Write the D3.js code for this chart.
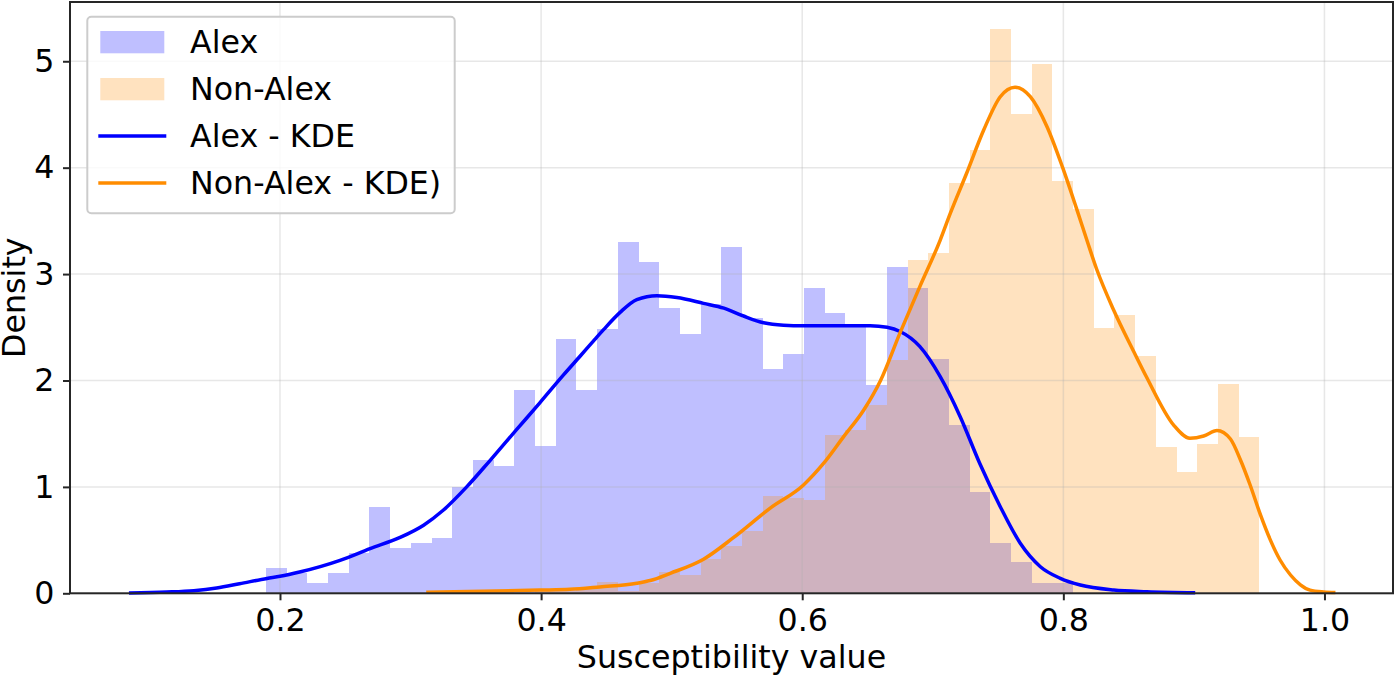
<!DOCTYPE html>
<html>
<head>
<meta charset="utf-8">
<script src="https://cdn.jsdelivr.net/npm/d3@7"></script>
<style>
  body { margin: 0; background: #fff; }
  text { font-family: "DejaVu Sans", sans-serif; fill: #000; }
</style>
</head>
<body>
<div id="chart"></div>
<script>

/**
 * Data
 */

// shared histogram bins
const binStart = 0.1893;
const binWidth = 0.01585;

const alexDensity = [
  0.235, 0.19, 0.10, 0.19, 0.38, 0.81, 0.43, 0.475, 0.52, 1.00,
  1.25, 1.20, 1.91, 1.38, 2.39, 1.91, 2.48, 3.30, 3.11, 2.68,
  2.44, 2.72, 3.25, 2.59, 2.11, 2.25, 2.87, 2.63, 2.52, 1.96,
  3.07, 2.87, 2.20, 1.58, 0.955, 0.475, 0.29, 0.094, 0.094, 0,
  0, 0, 0, 0, 0, 0, 0, 0,
];

const nonAlexDensity = [
  0, 0, 0, 0, 0, 0, 0, 0, 0, 0,
  0, 0.02, 0, 0.02, 0.02, 0.04, 0.11, 0.02, 0.10, 0.20,
  0.17, 0.32, 0.44, 0.585, 0.915, 0.895, 0.877, 1.49, 1.535, 1.77,
  2.19, 3.13, 3.20, 3.856, 4.166, 5.30, 4.50, 4.975, 3.875, 3.61,
  2.49, 2.62, 2.23, 1.375, 1.14, 1.40, 1.97, 1.47,
];

const alexKde = [
  [0.0843, 0.003], [0.113, 0.012], [0.134, 0.025], [0.1515, 0.05], [0.169, 0.09],
  [0.19, 0.14], [0.2, 0.16], [0.215, 0.2], [0.246, 0.31], [0.269, 0.42],
  [0.292, 0.525], [0.31, 0.64], [0.325, 0.78], [0.343, 1.0], [0.361, 1.25],
  [0.381, 1.535], [0.399, 1.79], [0.417, 2.05], [0.43, 2.23], [0.44, 2.37],
  [0.448, 2.48], [0.4605, 2.64], [0.4733, 2.76], [0.4887, 2.797], [0.504, 2.78],
  [0.5244, 2.725], [0.54, 2.68], [0.555, 2.606], [0.5704, 2.543], [0.5857, 2.52],
  [0.601, 2.515], [0.6266, 2.515], [0.652, 2.515], [0.665, 2.5], [0.675, 2.46],
  [0.69, 2.32], [0.7057, 2.036], [0.721, 1.66], [0.736, 1.22], [0.7517, 0.814],
  [0.767, 0.47], [0.7824, 0.25], [0.7977, 0.141], [0.813, 0.078], [0.8386, 0.031],
  [0.864, 0.015], [0.901, 0.005],
];

const nonAlexKde = [
  [0.312, 0.01], [0.399, 0.03], [0.422, 0.037], [0.445, 0.06], [0.4733, 0.094],
  [0.4835, 0.12], [0.4989, 0.188], [0.5244, 0.32], [0.547, 0.52], [0.5755, 0.80],
  [0.601, 1.018], [0.6163, 1.22], [0.6316, 1.47], [0.647, 1.72], [0.66, 2.0],
  [0.675, 2.45], [0.69, 2.88], [0.7057, 3.32], [0.7134, 3.57], [0.726, 3.95],
  [0.739, 4.354], [0.7517, 4.667], [0.763, 4.756], [0.7747, 4.667], [0.7875, 4.385],
  [0.7995, 4.0], [0.81, 3.62], [0.818, 3.32], [0.8254, 3.05], [0.8386, 2.66],
  [0.854, 2.27], [0.8638, 2.03], [0.8845, 1.58], [0.897, 1.457], [0.9075, 1.478],
  [0.9177, 1.53], [0.928, 1.45], [0.9356, 1.255], [0.943, 1.02], [0.951, 0.737],
  [0.9586, 0.5], [0.966, 0.313], [0.974, 0.172], [0.9816, 0.08], [0.989, 0.03],
  [0.9995, 0.013], [1.0084, 0.008],
];

const xTicks = [0.2, 0.4, 0.6, 0.8, 1.0];
const yTicks = [0, 1, 2, 3, 4, 5];

const legendLabels = ['Alex', 'Non-Alex', 'Alex - KDE', 'Non-Alex - KDE)'];


/**
 * Setup
 */

const width = 1395;
const height = 678;
const margin = { top: 2, right: 2, bottom: 84.7, left: 70 };
const fontSize = '31.7px';

const colors = {
  alex: '#0000ff',
  nonAlex: '#ff8c00',
  spine: '#262626',
  grid: '#b0b0b0',
};

const svg = d3.select('#chart')
              .append('svg')
              .attr('width', width)
              .attr('height', height);

const x = d3.scaleLinear()
            .domain([0.03916, 1.0525])
            .range([margin.left, width - margin.right]);

const y = d3.scaleLinear()
            .domain([0, 5.557])
            .range([height - margin.bottom, margin.top]);

const bins = alexDensity.map((_, i) => ({
  x0: binStart + i * binWidth,
  x1: binStart + (i + 1) * binWidth,
}));


/**
 * Histograms
 */

function drawBars(values, color) {
  svg.append('g')
     .selectAll('rect')
     .data(values.map((v, i) => ({ ...bins[i], v })).filter(d => d.v > 0))
     .enter()
     .append('rect')
     .attr('x', d => x(d.x0))
     .attr('width', d => x(d.x1) - x(d.x0))
     .attr('y', d => y(d.v))
     .attr('height', d => y(0) - y(d.v))
     .attr('fill', color)
     .attr('fill-opacity', 0.25)
     .attr('shape-rendering', 'crispEdges');
}

drawBars(alexDensity, colors.alex);
drawBars(nonAlexDensity, colors.nonAlex);


/**
 * Grid
 */

const grid = svg.append('g')
                .attr('stroke', colors.grid)
                .attr('stroke-opacity', 0.3)
                .attr('stroke-width', 1.5);

grid.selectAll('line.gx')
    .data(xTicks)
    .enter()
    .append('line')
    .attr('x1', d => x(d)).attr('x2', d => x(d))
    .attr('y1', y.range()[0]).attr('y2', y.range()[1]);

grid.selectAll('line.gy')
    .data(yTicks)
    .enter()
    .append('line')
    .attr('y1', d => y(d)).attr('y2', d => y(d))
    .attr('x1', x.range()[0]).attr('x2', x.range()[1]);


/**
 * KDE lines
 */

const line = d3.line()
               .x(d => x(d[0]))
               .y(d => y(d[1]))
               .curve(d3.curveMonotoneX);

[[alexKde, colors.alex], [nonAlexKde, colors.nonAlex]].forEach(([pts, color]) => {
  svg.append('path')
     .datum(pts)
     .attr('d', line)
     .attr('fill', 'none')
     .attr('stroke', color)
     .attr('stroke-width', 3.5)
     .attr('stroke-linejoin', 'round');
});


/**
 * Axes
 */

const xAxis = svg.append('g')
                 .attr('transform', `translate(0,${y(0)})`)
                 .call(d3.axisBottom(x)
                         .tickValues(xTicks)
                         .tickFormat(d3.format('.1f'))
                         .tickSize(7)
                         .tickPadding(8));

const yAxis = svg.append('g')
                 .attr('transform', `translate(${x.range()[0]},0)`)
                 .call(d3.axisLeft(y)
                         .tickValues(yTicks)
                         .tickFormat(d3.format('d'))
                         .tickSize(7)
                         .tickPadding(8.5));

[xAxis, yAxis].forEach(axis => {
  axis.select('.domain').remove();
  axis.selectAll('.tick line')
      .attr('stroke', colors.spine)
      .attr('stroke-width', 2);
  axis.selectAll('.tick text')
      .attr('fill', '#000')
      .style('font-family', '"DejaVu Sans", sans-serif')
      .style('font-size', fontSize);
});

// frame
svg.append('rect')
   .attr('x', x.range()[0])
   .attr('y', y.range()[1])
   .attr('width', x.range()[1] - x.range()[0])
   .attr('height', y.range()[0] - y.range()[1])
   .attr('fill', 'none')
   .attr('stroke', colors.spine)
   .attr('stroke-width', 2);

svg.append('text')
   .attr('x', (x.range()[0] + x.range()[1]) / 2)
   .attr('y', 668)
   .attr('text-anchor', 'middle')
   .style('font-size', fontSize)
   .text('Susceptibility value');

svg.append('text')
   .attr('transform', `translate(25,${(y.range()[0] + y.range()[1]) / 2}) rotate(-90)`)
   .attr('text-anchor', 'middle')
   .style('font-size', fontSize)
   .text('Density');


/**
 * Legend
 */

const legend = svg.append('g').attr('transform', 'translate(87.3,16.7)');

legend.append('rect')
      .attr('width', 367.4)
      .attr('height', 196.6)
      .attr('rx', 4)
      .attr('fill', '#fff')
      .attr('fill-opacity', 0.8)
      .attr('stroke', '#cccccc')
      .attr('stroke-width', 2);

const legendKinds = [
  { kind: 'patch', color: colors.alex },
  { kind: 'patch', color: colors.nonAlex },
  { kind: 'line', color: colors.alex },
  { kind: 'line', color: colors.nonAlex },
];

legendLabels.forEach((label, i) => {
  const item = legendKinds[i];
  const row = legend.append('g').attr('transform', `translate(0,${i * 47})`);

  if (item.kind === 'patch') {
    row.append('rect')
       .attr('x', 13).attr('y', 14.3)
       .attr('width', 64).attr('height', 22.3)
       .attr('fill', item.color)
       .attr('fill-opacity', 0.25);
  }
  else {
    row.append('line')
       .attr('x1', 11).attr('x2', 79)
       .attr('y1', 25.3).attr('y2', 25.3)
       .attr('stroke', item.color)
       .attr('stroke-width', 3.5);
  }

  row.append('text')
     .attr('x', 102.7)
     .attr('y', 36.6)
     .style('font-size', fontSize)
     .text(label);
});

</script>
</body>
</html>
